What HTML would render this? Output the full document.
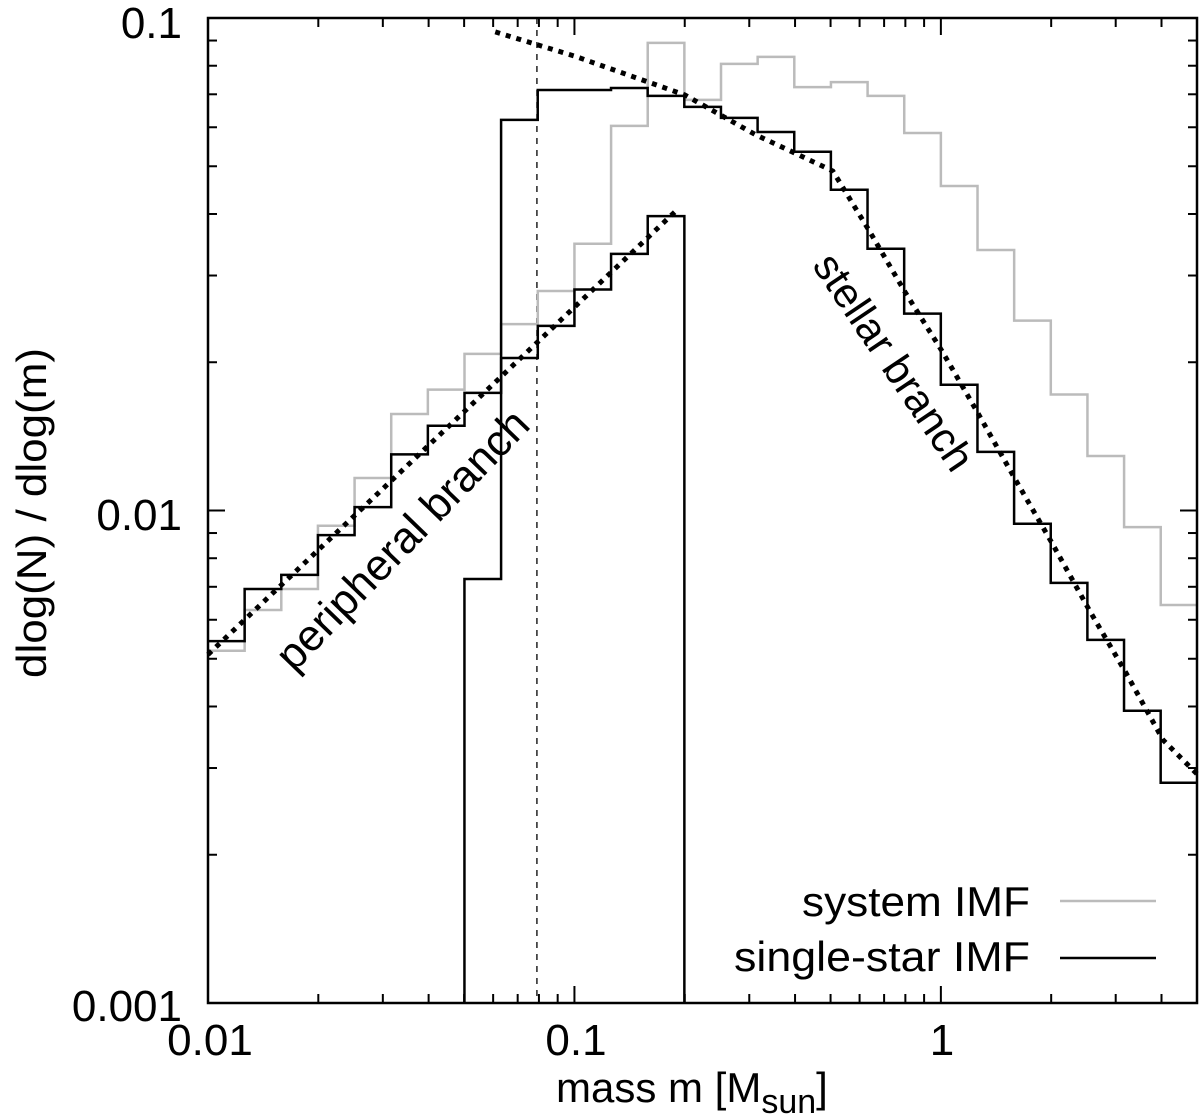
<!DOCTYPE html>
<html><head><meta charset="utf-8"><style>
html,body{margin:0;padding:0;background:#fff;}
svg{display:block;font-family:"Liberation Sans",sans-serif;}
</style></head><body>
<svg id="chart" width="1200" height="1120" viewBox="0 0 1200 1120">
<g id="plot"></g>
<text x="182" y="38" font-size="44" text-anchor="end">0.1</text>
<text x="182" y="530" font-size="44" text-anchor="end">0.01</text>
<text x="182" y="1021" font-size="44" text-anchor="end">0.001</text>
<text x="210" y="1055" font-size="44" text-anchor="middle">0.01</text>
<text x="576" y="1055" font-size="44" text-anchor="middle">0.1</text>
<text x="942" y="1055" font-size="44" text-anchor="middle">1</text>
<text x="556" y="1102" font-size="42">mass m [M<tspan dy="11" font-size="34">sun</tspan><tspan dy="-11">]</tspan></text>
<text transform="translate(46,513) rotate(-90)" font-size="42" text-anchor="middle" textLength="330" lengthAdjust="spacingAndGlyphs">dlog(N) / dlog(m)</text>
<text transform="translate(413,550) rotate(-46)" font-size="44" text-anchor="middle">peripheral branch</text>
<text transform="translate(882,370) rotate(56)" font-size="42" text-anchor="middle">stellar branch</text>
<text x="1030" y="916" font-size="42" text-anchor="end" textLength="228" lengthAdjust="spacingAndGlyphs">system IMF</text>
<line x1="1060" y1="901" x2="1156" y2="901" stroke="#bbb" stroke-width="2.5"/>
<text x="1030" y="971" font-size="42" text-anchor="end" textLength="296" lengthAdjust="spacingAndGlyphs">single-star IMF</text>
<line x1="1060" y1="958" x2="1156" y2="958" stroke="#000" stroke-width="2.5"/>
</svg>
<script>
// Data: histograms in 0.1-dex bins
const binWidthDex = 0.1;
const systemStart = 0.01;
const systemValues = [0.00519,0.00628,0.00693,0.00931,0.01164,0.0157,0.0176,0.0208,0.0239,0.0279,0.0348,0.0604,0.0890,0.0682,0.0807,0.0834,0.0724,0.0741,0.0695,0.0584,0.0456,0.0338,0.0243,0.0172,0.0129,0.00925,0.00643];
const peripheralStart = 0.01;
const peripheralValues = [0.00543,0.00693,0.00740,0.00891,0.01016,0.0130,0.01486,0.01733,0.0204,0.0237,0.0281,0.0332,0.0396];
const stellarStart = 0.0501;
const stellarValues = [0.00726,0.0621,0.0714,0.0714,0.0721,0.0695,0.0660,0.0627,0.0587,0.0535,0.0448,0.0340,0.0251,0.0180,0.01315,0.0094,0.00713,0.00546,0.00392,0.0028];
const peripheralFitMass = [0.01,0.19];
const peripheralFitValues = [0.0051,0.0407];
const stellarFitMass = [0.0608,0.1,0.2,0.314,0.399,0.507,0.636,0.80,1.01,1.26,1.60,2.01,2.54,3.20,4.04,5.04];
const stellarFitValues = [0.0937,0.0837,0.0698,0.0578,0.0532,0.0489,0.0371,0.0277,0.0210,0.0158,0.01153,0.00859,0.00628,0.00468,0.00342,0.00290];
const hbmLimit = 0.079;

const X0=208, X1=1197, Y0=18, Y1=1003;
const xmin=-2, xmax=Math.log10(5), ymin=-3, ymax=-1;
function sx(m){return X0+(Math.log10(m)-xmin)/(xmax-xmin)*(X1-X0);}
function sy(v){return Y1-(Math.log10(v)-ymin)/(ymax-ymin)*(Y1-Y0);}
const NS="http://www.w3.org/2000/svg";
const plot=document.getElementById('plot');
function mk(tag,attrs){const e=document.createElementNS(NS,tag);for(const k in attrs)e.setAttribute(k,attrs[k]);plot.appendChild(e);return e;}
function clipY(y){return Math.min(Math.max(y,Y0),Y1);}
function histPath(start,vals,dropStart,dropEnd){
  let d="";const l0=Math.log10(start);
  vals.forEach((v,i)=>{
    const xa=sx(Math.pow(10,l0+i*binWidthDex)), xb=Math.min(sx(Math.pow(10,l0+(i+1)*binWidthDex)),X1), y=clipY(sy(v));
    if(i===0){d+= dropStart?`M${xa},${Y1}L${xa},${y}`:`M${xa},${y}`;}else d+=`L${xa},${y}`;
    d+=`L${xb},${y}`;
    if(i===vals.length-1&&dropEnd)d+=`L${xb},${Y1}`;
  });
  return d;
}
let e;
e=mk('line',{x1:sx(hbmLimit),y1:Y0,x2:sx(hbmLimit),y2:Y1,stroke:'#000','stroke-width':1.3,'stroke-dasharray':'6,6'});


e=mk('path',{d:histPath(systemStart,systemValues,false,false),fill:'none',stroke:'#bbb','stroke-width':2.5});


e=mk('path',{d:histPath(peripheralStart,peripheralValues,false,true),fill:'none',stroke:'#000','stroke-width':2.5});


e=mk('path',{d:histPath(stellarStart,stellarValues,true,false),fill:'none',stroke:'#000','stroke-width':2.5});


function fitPath(ms,vs){return ms.map((m,i)=>(i?'L':'M')+sx(m)+','+sy(vs[i])).join('');}
e=mk('path',{d:fitPath(peripheralFitMass,peripheralFitValues),fill:'none',stroke:'#000','stroke-width':5,'stroke-dasharray':'5,6'});


e=mk('path',{d:fitPath(stellarFitMass,stellarFitValues),fill:'none',stroke:'#000','stroke-width':5,'stroke-dasharray':'5,6'});


// ticks
for(let dec=-2;dec<=0;dec++){for(let k=1;k<=9;k++){const m=k*Math.pow(10,dec);if(m>5)break;const x=sx(m);const L=k===1?17:9;
  e=mk('line',{x1:x,y1:Y1,x2:x,y2:Y1-L,stroke:'#000','stroke-width':2});
  
  
  e=mk('line',{x1:x,y1:Y0,x2:x,y2:Y0+L,stroke:'#000','stroke-width':2});
  
  
}}
for(let dec=-3;dec<=-1;dec++){for(let k=1;k<=9;k++){const v=k*Math.pow(10,dec);if(v>0.1)break;const y=sy(v);const L=k===1?17:9;
  e=mk('line',{x1:X0,y1:y,x2:X0+L,y2:y,stroke:'#000','stroke-width':2});
  
  
  e=mk('line',{x1:X1,y1:y,x2:X1-L,y2:y,stroke:'#000','stroke-width':2});
  
  
}}
e=mk('rect',{x:X0,y:Y0,width:X1-X0,height:Y1-Y0,fill:'none',stroke:'#000','stroke-width':2.5});


</script>
</body></html>
